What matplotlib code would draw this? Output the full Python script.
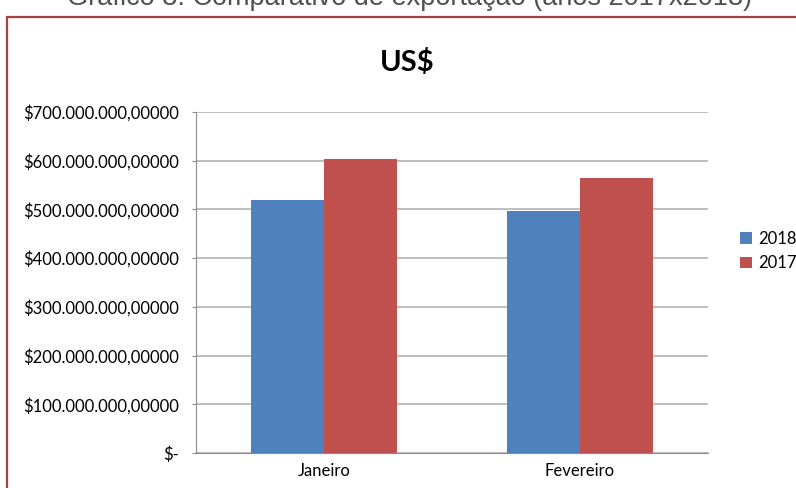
import matplotlib.pyplot as plt
from matplotlib.patches import Rectangle
from matplotlib.ticker import FuncFormatter

meses = ["Janeiro", "Fevereiro"]
anos = ["2018", "2017"]
valores_2018 = [519_000_000, 496_000_000]
valores_2017 = [603_000_000, 565_000_000]
cores = ["#4F81BD", "#C0504D"]

plt.rcParams['font.family'] = ['Lato', 'DejaVu Sans']

fig = plt.figure(figsize=(7.96, 4.88), dpi=100)

# titulo do documento (cortado no topo)
fig.text(0.515, 1.004, "Gráfico 3: Comparativo de exportação (anos 2017x2018)",
         ha='center', va='center', fontsize=19.5, color='#505050',
         family=['Liberation Sans', 'DejaVu Sans'])

# moldura do grafico
fig.patches.append(Rectangle((7 / 796, -0.1), 1.2, 1 - 17 / 488 + 0.1,
                             transform=fig.transFigure, fill=False,
                             edgecolor='#A8433F', linewidth=1.6))

ax = fig.add_axes([196 / 796, 1 - 453 / 488, 512 / 796, (453 - 112) / 488])

largura = 0.285
x = range(len(meses))
ax.bar([i - largura / 2 for i in x], valores_2018, largura, color=cores[0],
       label=anos[0], zorder=3)
ax.bar([i + largura / 2 for i in x], valores_2017, largura, color=cores[1],
       label=anos[1], zorder=3)

ax.set_xlim(-0.5, 1.5)
ax.set_ylim(0, 700_000_000)
ax.set_yticks(range(0, 700_000_001, 100_000_000))
ax.set_xticks(list(x))
ax.set_xticklabels(meses)


def moeda(v, pos):
    if v == 0:
        return "$-"
    inteiro = f"{int(v):,}".replace(",", ".")
    return f"${inteiro},00000"


ax.yaxis.set_major_formatter(FuncFormatter(moeda))
ax.grid(axis='y', color='#B3B3B3', linewidth=1.2, zorder=0)
for lado in ['top', 'right']:
    ax.spines[lado].set_visible(False)
ax.spines['left'].set_color('#8C8C8C')
ax.spines['bottom'].set_color('#8C8C8C')
ax.tick_params(axis='y', length=3, color='#8C8C8C', labelsize=12, pad=9)
ax.tick_params(axis='x', length=0, labelsize=12, pad=7)

fig.text(407 / 796, 1 - 62 / 488, "US$", ha='center', va='center',
         fontsize=21, fontweight='bold')

fig.legend(loc='center left', bbox_to_anchor=(725 / 796, 1 - 251 / 488),
           frameon=False, fontsize=12, handlelength=0.7, handleheight=0.7,
           handletextpad=0.4, labelspacing=0.5)

fig.savefig("out.png", dpi=100)
